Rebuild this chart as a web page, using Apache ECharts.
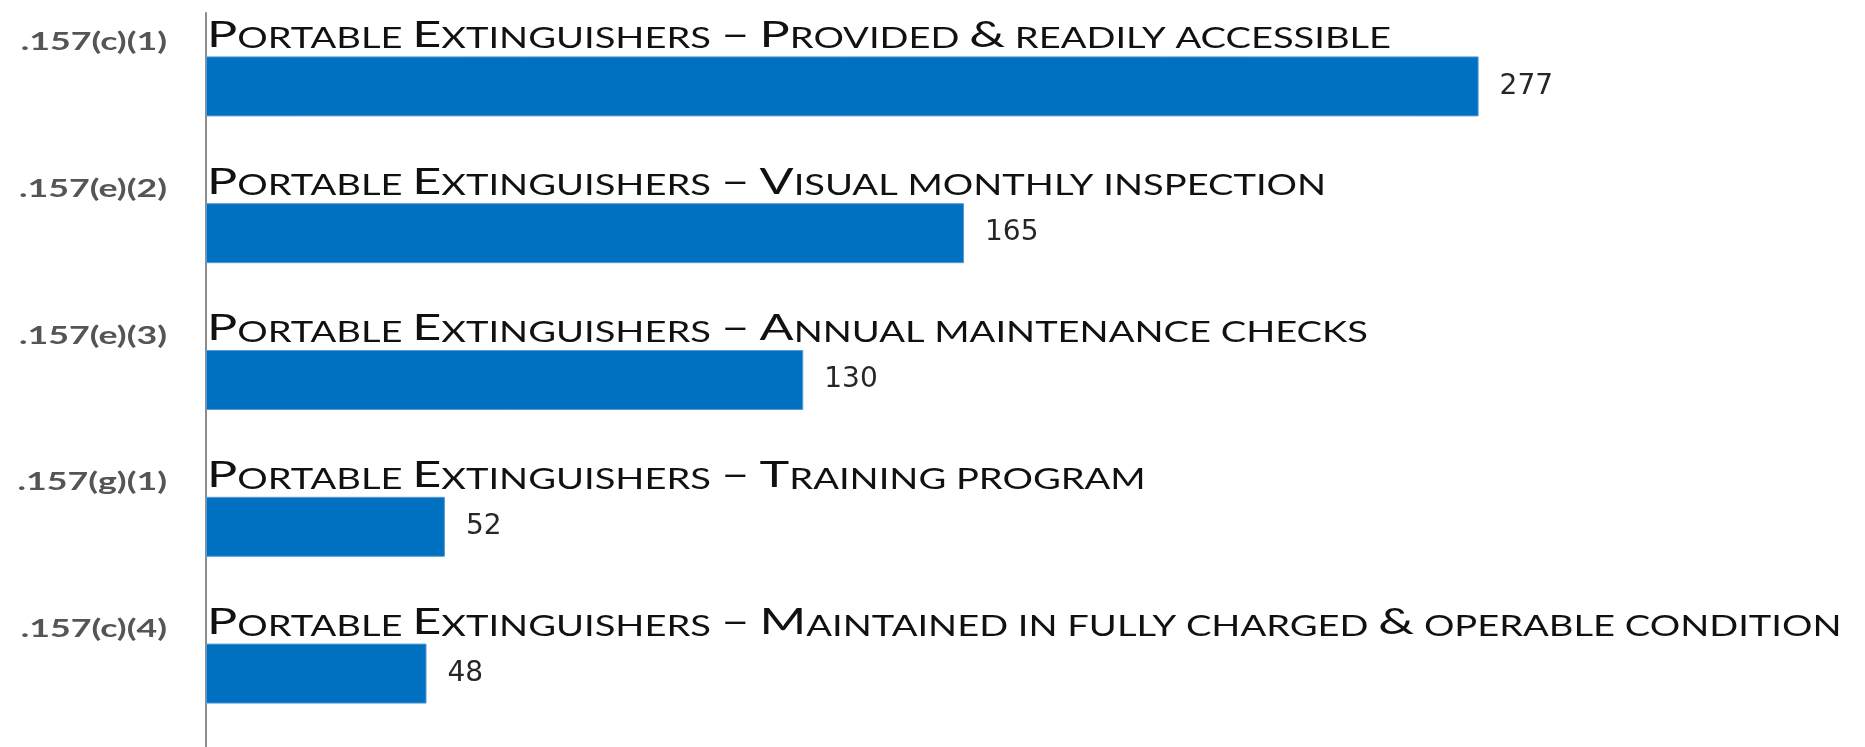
<!DOCTYPE html>
<html>
<head>
<meta charset="utf-8">
<script src="https://cdn.jsdelivr.net/npm/echarts@6/dist/echarts.min.js"></script>
<style>
  html, body { margin: 0; padding: 0; background: #fff; }
  #chart { width: 1865px; height: 747px; }
</style>
</head>
<body>
<div id="chart"></div>
<script>
// data
var codes = ['.157(c)(1)', '.157(e)(2)', '.157(e)(3)', '.157(g)(1)', '.157(c)(4)'];
var titles = [
    'Portable Extinguishers – Provided & readily accessible',
    'Portable Extinguishers – Visual monthly inspection',
    'Portable Extinguishers – Annual maintenance checks',
    'Portable Extinguishers – Training program',
    'Portable Extinguishers – Maintained in fully charged & operable condition'
];
var counts = [277, 165, 130, 52, 48];

// fake small caps with rich text: lowercase -> small uppercase, rest big
function smallCaps(str) {
    var out = '', run = '', runBig = null;
    for (var i = 0; i < str.length; i++) {
        var ch = str[i];
        var big = !(ch === ' ' || ch !== ch.toUpperCase());
        if (runBig !== null && big !== runBig) {
            out += '{' + (runBig ? 'b' : 's') + '|' + run + '}';
            run = '';
        }
        runBig = big;
        run += ch.toUpperCase();
    }
    if (run) out += '{' + (runBig ? 'b' : 's') + '|' + run + '}';
    return out;
}

var font = 'Lato';
var barW = 60;

// the source picture is stretched sideways, so text gets a scaleX
function renderText(params, api) {
    var i = api.value(1);
    var p = api.coord([0, i]);
    var band = api.size([0, 1])[1];
    return {
        type: 'group',
        children: [
            {
                type: 'text',
                x: p[0] + 1,
                y: p[1] - barW / 2 - 3,
                scaleX: 1.36,
                style: {
                    text: smallCaps(titles[i]),
                    align: 'left',
                    verticalAlign: 'bottom',
                    rich: {
                        b: { fontFamily: font, fontSize: 37, lineHeight: 37, fill: '#111', verticalAlign: 'bottom' },
                        s: { fontFamily: font, fontSize: 28, lineHeight: 37, fill: '#111', verticalAlign: 'bottom' }
                    }
                }
            },
            {
                type: 'text',
                x: p[0] - 39,
                y: p[1] - band / 2 + 29,
                scaleX: 1.43,
                style: {
                    text: codes[i],
                    align: 'right',
                    verticalAlign: 'middle',
                    fontFamily: font,
                    fontSize: 25,
                    fontWeight: 'bold',
                    fill: '#555'
                }
            }
        ]
    };
}

var chart = echarts.init(document.getElementById('chart'));
chart.setOption({
    animation: false,
    grid: { left: 206, top: 13, width: 1608, height: 737 },
    xAxis: {
        type: 'value',
        min: 0,
        max: 350,
        show: false
    },
    yAxis: {
        type: 'category',
        data: codes,
        inverse: true,
        axisLine: { lineStyle: { color: '#8c8c8c', width: 2 } },
        axisTick: { length: 13, lineStyle: { color: '#8c8c8c', width: 1.5 } },
        axisLabel: { show: false }
    },
    series: [
        {
            type: 'bar',
            data: counts,
            barWidth: barW,
            itemStyle: { color: '#0070c0', borderColor: '#5b9bd5', borderWidth: 1 },
            label: {
                show: true,
                position: 'right',
                distance: 21,
                fontFamily: 'DejaVu Sans',
                fontSize: 28,
                color: '#262626'
            }
        },
        {
            type: 'custom',
            clip: false,
            data: counts.map(function (v, i) { return [v, i]; }),
            encode: { x: 0, y: 1 },
            renderItem: renderText,
            z: 5
        }
    ]
});
</script>
</body>
</html>
